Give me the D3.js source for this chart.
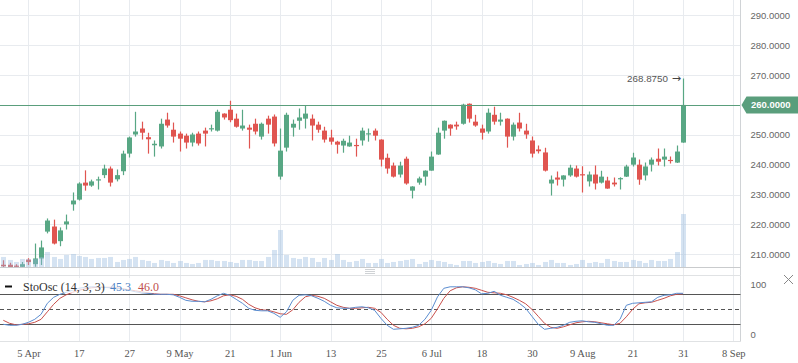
<!DOCTYPE html>
<html><head><meta charset="utf-8">
<script src="https://cdn.jsdelivr.net/npm/d3@7"></script>
<style>body{margin:0;background:#fff;overflow:hidden}svg{display:block}</style>
</head><body>
<svg id="c" width="798" height="363"></svg>
<script>
// ---- data (one entry per trading day, 29 Mar .. 31 Aug) ----
const open  = [206.5,206.5,206.2,205.8,208.2,206.7,208.6,217.6,219.3,214.4,220.0,226.7,228.3,234.0,233.0,234.8,236.5,238.7,235.1,237.8,243.7,250.1,252.1,249.2,246.5,246.1,255.1,251.7,250.4,249.7,247.4,250.4,251.4,251.9,251.4,257.1,258.4,255.4,252.1,252.4,253.7,249.4,255.4,256.1,236.0,245.7,252.4,254.7,255.4,255.4,253.4,251.4,249.1,247.7,246.4,246.1,246.6,248.1,250.3,251.4,248.4,242.3,239.7,236.7,242.0,231.3,234.0,236.0,238.0,243.4,251.4,253.4,253.4,253.7,260.4,254.4,252.1,251.1,256.7,254.4,255.4,249.4,254.1,251.4,248.1,245.1,244.1,233.7,235.7,235.0,236.4,238.7,236.8,234.4,236.7,234.0,234.7,234.0,235.2,236.0,240.0,240.0,236.4,240.0,242.0,241.7,241.6,240.7,247.4];
const high  = [208.0,207.2,206.7,207.4,208.7,213.6,214.6,222.0,221.6,219.0,223.3,230.7,234.1,238.1,235.0,236.0,240.0,239.4,238.4,244.7,249.4,257.7,254.4,250.7,248.1,255.4,257.4,254.1,251.1,250.4,250.7,251.1,252.4,253.4,258.4,257.2,261.4,257.1,258.4,253.4,255.4,254.1,256.4,256.8,252.1,257.4,255.1,258.8,259.8,256.8,254.4,252.7,251.7,248.0,248.7,249.7,248.7,252.4,252.1,252.1,248.5,243.7,240.7,241.0,242.7,232.8,236.0,238.1,244.4,252.4,254.8,253.5,254.4,260.4,260.5,256.7,253.4,258.8,259.4,257.4,255.5,254.1,257.4,253.7,249.4,246.4,245.7,236.4,237.7,236.5,240.0,239.7,239.5,237.7,239.7,238.0,236.0,235.7,235.8,240.0,244.0,241.7,240.7,242.4,245.4,245.4,242.7,246.4,268.875];
const low   = [205.5,205.0,205.2,205.5,206.4,205.8,206.4,217.0,213.3,212.7,218.3,224.6,228.0,231.3,232.6,231.7,235.5,232.7,234.4,236.5,242.4,249.4,248.4,243.7,242.7,245.4,252.4,247.4,244.4,245.4,246.1,246.4,246.1,251.1,251.1,255.1,254.2,252.4,251.4,245.4,250.1,248.4,250.4,246.1,235.0,244.4,249.4,251.7,252.1,248.1,250.7,247.4,246.7,243.7,244.0,246.0,242.7,246.4,247.7,248.1,239.4,237.0,235.7,235.7,233.3,228.7,233.3,233.0,238.0,243.3,248.7,249.7,251.7,253.4,254.1,252.7,248.4,250.4,253.4,253.1,245.7,248.1,251.1,248.7,242.4,243.7,237.7,229.7,233.0,232.7,236.0,235.7,230.7,232.7,231.7,233.7,231.9,232.7,231.7,235.9,239.4,233.3,234.7,237.7,239.7,239.4,240.4,240.6,247.3];
const close = [206.0,205.7,205.8,206.7,207.4,208.6,212.3,221.3,213.6,218.0,221.0,228.0,233.7,233.0,234.4,235.1,238.7,234.0,236.5,243.7,249.1,251.1,250.7,248.5,247.0,253.7,253.1,249.4,248.7,247.4,250.1,247.1,250.4,252.2,257.7,255.8,254.9,252.7,253.1,251.7,251.1,253.7,253.4,247.1,244.7,256.7,253.7,255.8,257.1,253.1,251.7,248.4,247.7,246.7,248.0,247.4,246.3,251.4,250.5,249.7,241.7,238.7,236.0,239.7,233.7,232.7,235.4,238.0,242.7,250.7,254.7,252.1,252.8,260.1,255.4,253.1,250.7,257.4,254.4,255.1,249.4,253.4,252.1,250.1,243.7,244.5,238.0,235.0,235.0,236.4,239.0,236.0,236.5,236.7,233.7,236.0,232.0,233.4,235.5,239.4,242.4,235.0,239.4,241.7,241.0,242.7,241.3,244.4,260.0];
const volume = [3.1,2.2,1.6,2.5,2.5,2.5,3.1,4.6,3.1,2.5,3.7,4.0,3.4,3.1,2.5,2.8,2.8,3.1,1.6,2.2,2.5,3.1,2.2,1.9,1.3,2.2,1.9,1.3,1.9,1.3,1.0,1.3,2.2,2.2,1.9,1.9,1.6,1.3,2.2,2.2,1.9,1.9,3.1,5.2,11.2,3.7,2.8,2.5,3.1,2.8,1.6,2.8,2.2,4.0,2.2,1.6,1.9,2.5,1.3,1.3,2.5,1.3,1.6,1.9,2.2,2.5,1.0,1.6,2.2,1.9,1.6,1.0,0.7,1.9,1.9,1.3,1.6,1.9,1.3,1.0,1.9,1.9,0.7,1.0,1.3,0.7,1.6,2.2,1.3,1.3,0.7,1.0,2.2,1.3,1.6,1.3,2.5,1.9,1.6,1.6,2.2,1.9,1.3,2.2,1.9,1.9,2.5,4.6,16.0];
const stochK = [20,18,18,20,24,30,40,62,74,80,84,88,92,94,95,95,94,93,92,90,88,85,83,82,80,80,80,79,74,68,66,66,65,70,77,82,78,70,62,52,48,47,47,42,34,45,68,78,79,77,72,66,58,53,52,52,54,55,53,48,32,18,10,11,12,14,18,30,48,75,92,95,95,95,93,89,81,82,86,78,74,70,62,52,36,20,10,12,14,18,24,26,27,25,24,21,18,18,30,58,62,63,64,65,74,78,79,82,82];
const stochD = [28,22,19,20,21,24,30,45,60,72,79,84,88,91,93,94,94,94,93,91,89,87,85,83,81,80,80,80,77,73,69,66,65,67,71,77,79,76,70,60,53,49,48,45,41,40,49,64,75,78,76,72,65,58,54,52,52,53,54,52,44,30,18,12,11,12,15,21,32,51,72,87,93,95,94,92,88,84,83,82,79,74,68,61,50,36,22,14,12,15,19,23,25,26,25,23,21,19,22,35,50,61,63,64,68,72,77,80,81];
const tickIndex  = [4,12,20,28,36,44,52,60,68,76,84,92,100,108,116];
const tickLabels = ["5 Apr","17","27","9 May","21","1 Jun","13","25","6 Jul","18","30","9 Aug","21","31","8 Sep"];
const priceTicks = [210,220,230,240,250,260,270,280,290];
const oscTicks = [0,100];
const oscLevels = [20,50,80];
const legendTitle = "StoOsc (14, 3, 3)";
const legendK = "45.3", legendD = "46.0";

// ---- layout ----
const svg = d3.select("#c");
const right = 740.5;
const mainTop = 0, mainBottom = 267.3, oscTop = 275.3, oscBottom = 341.7;
const UP = "#58a784", DOWN = "#e05550", LINEG = "#5a9e7c";

const x  = d3.scaleLinear().domain([0,116]).range([3.3,733.3]);
const y  = d3.scaleLinear().domain([210,290]).range([254.3,15.3]);
const vy = d3.scaleLinear().domain([0,16]).range([mainBottom,214]);
const oy = d3.scaleLinear().domain([0,100]).range([334.3,284.3]);

svg.append("defs").append("clipPath").attr("id","mainClip")
  .append("rect").attr("x",0).attr("y",mainTop).attr("width",right).attr("height",mainBottom-mainTop);

// grid
const grid = svg.append("g");
grid.selectAll("line.v").data(tickIndex).join("line")
  .attr("x1",d=>Math.round(x(d))+0.5).attr("x2",d=>Math.round(x(d))+0.5)
  .attr("y1",0).attr("y2",oscBottom).attr("stroke","#e8ebef");
grid.selectAll("line.h").data(priceTicks).join("line")
  .attr("x1",0).attr("x2",right).attr("y1",d=>Math.round(y(d))+0.5).attr("y2",d=>Math.round(y(d))+0.5)
  .attr("stroke","#e8ebef");

// candles
const main = svg.append("g").attr("clip-path","url(#mainClip)");
const idx = d3.range(close.length);
main.selectAll("line.wick").data(idx).join("line")
  .attr("x1",i=>Math.round(x(i))+0.5).attr("x2",i=>Math.round(x(i))+0.5)
  .attr("y1",i=>y(high[i])).attr("y2",i=>y(low[i]))
  .attr("stroke",i=>close[i]>=open[i]?UP:DOWN).attr("stroke-width",1.2);
main.selectAll("rect.body").data(idx).join("rect")
  .attr("x",i=>Math.round(x(i))-2).attr("width",5)
  .attr("y",i=>y(Math.max(open[i],close[i])))
  .attr("height",i=>Math.max(1.2,Math.abs(y(open[i])-y(close[i]))))
  .attr("fill",i=>close[i]>=open[i]?UP:DOWN);

// volume (semi-transparent, on top)
main.selectAll("rect.vol").data(idx).join("rect")
  .attr("x",i=>Math.round(x(i))-2).attr("width",5)
  .attr("y",i=>vy(volume[i])).attr("height",i=>mainBottom-vy(volume[i]))
  .attr("fill","rgb(150,185,222)").attr("fill-opacity",0.4);

// price line at last close
const lastClose = close[close.length-1];
svg.append("line").attr("x1",0).attr("x2",right)
  .attr("y1",Math.round(y(lastClose))+0.5).attr("y2",Math.round(y(lastClose))+0.5)
  .attr("stroke",LINEG).attr("stroke-width",1);

// high annotation
const last = close.length-1;
svg.append("text").attr("x",x(last)-15).attr("y",y(high[last])).attr("dy","0.35em")
  .attr("text-anchor","end").attr("font-family","Liberation Sans, Arial, sans-serif")
  .attr("font-size",9.8).attr("fill","#555").text(d3.format(".4f")(high[last]));
svg.append("text").attr("x",x(last)-2).attr("y",y(high[last])).attr("dy","0.3em")
  .attr("text-anchor","end").attr("font-family","DejaVu Sans, sans-serif")
  .attr("font-size",11).attr("fill","#444").text("→");

// panel borders
svg.append("line").attr("x1",right).attr("x2",right).attr("y1",0).attr("y2",oscBottom).attr("stroke","#d0d3d6");
svg.append("line").attr("x1",0).attr("x2",right).attr("y1",267.5).attr("y2",267.5).attr("stroke","#c9cbcd");
svg.append("line").attr("x1",0).attr("x2",right).attr("y1",275.5).attr("y2",275.5).attr("stroke","#e0e2e4");
svg.append("line").attr("x1",0).attr("x2",right).attr("y1",341.5).attr("y2",341.5).attr("stroke","#e0e2e4");
// grip
[269.5,271.5,273.5].forEach(g=>svg.append("line").attr("x1",365).attr("x2",375).attr("y1",g).attr("y2",g).attr("stroke","#cfd2d5"));
// close cross
svg.append("path").attr("d","M784,275 L793,284 M793,275 L784,284").attr("stroke","#888").attr("stroke-width",1).attr("fill","none");

// price axis
const yAxis = svg.append("g").attr("transform",`translate(${right},0)`)
  .call(d3.axisRight(y).tickValues(priceTicks).tickFormat(d3.format(".4f")).tickSize(0).tickPadding(10));
yAxis.select(".domain").remove();
yAxis.selectAll("text").attr("font-family","Liberation Sans, Arial, sans-serif").attr("font-size",9.5).attr("fill","#666");

// price tag
const ty = y(lastClose);
svg.append("path").attr("d",`M${right+1},${ty} L${right+6},${ty-8.5} H798 V${ty+8.5} H${right+6} Z`).attr("fill",LINEG);
svg.append("text").attr("x",751).attr("y",ty).attr("dy","0.35em")
  .attr("font-family","Liberation Sans, Arial, sans-serif").attr("font-size",9.5).attr("font-weight","bold")
  .attr("fill","#fff").text(d3.format(".4f")(lastClose));

// oscillator
svg.selectAll("line.lvl").data(oscLevels).join("line")
  .attr("x1",0).attr("x2",right).attr("y1",d=>Math.round(oy(d))+0.5).attr("y2",d=>Math.round(oy(d))+0.5)
  .attr("stroke","#555").attr("stroke-width",1).attr("stroke-dasharray",d=>d===50?"4,3":null);
const line = d3.line().x((d,i)=>x(i)).y(d=>oy(d));
svg.append("path").datum(stochD).attr("d",line).attr("fill","none").attr("stroke","#c8504c").attr("stroke-width",1);
svg.append("path").datum(stochK).attr("d",line).attr("fill","none").attr("stroke","#5b8dd0").attr("stroke-width",1);

const oAxis = svg.append("g").attr("transform",`translate(${right},0)`)
  .call(d3.axisRight(oy).tickValues(oscTicks).tickFormat(d3.format("d")).tickSize(0).tickPadding(10));
oAxis.select(".domain").remove();
oAxis.selectAll("text").attr("font-family","Liberation Sans, Arial, sans-serif").attr("font-size",9.5).attr("fill","#666");

// legend
svg.append("rect").attr("x",0).attr("y",278).attr("width",163).attr("height",15).attr("fill","#fff").attr("fill-opacity",0.72);
svg.append("line").attr("x1",5).attr("x2",12).attr("y1",286.5).attr("y2",286.5).attr("stroke","#111").attr("stroke-width",2);
const lg = svg.append("text").attr("y",290.5).attr("font-family","Liberation Serif, Times New Roman, serif").attr("font-size",12);
lg.append("tspan").attr("x",23).attr("fill","#333").text(legendTitle);
lg.append("tspan").attr("x",110).attr("fill","#4f83c4").text(legendK);
lg.append("tspan").attr("x",138).attr("fill","#c0504d").text(legendD);

// time axis
const xAxis = svg.append("g").attr("transform",`translate(0,${oscBottom})`)
  .call(d3.axisBottom(x).tickValues(tickIndex).tickFormat((d,i)=>tickLabels[i]).tickSize(0).tickPadding(8));
xAxis.select(".domain").remove();
xAxis.selectAll("text").attr("font-family","Liberation Serif, Times New Roman, serif").attr("font-size",10.5).attr("fill","#555");
</script>
</body></html>
